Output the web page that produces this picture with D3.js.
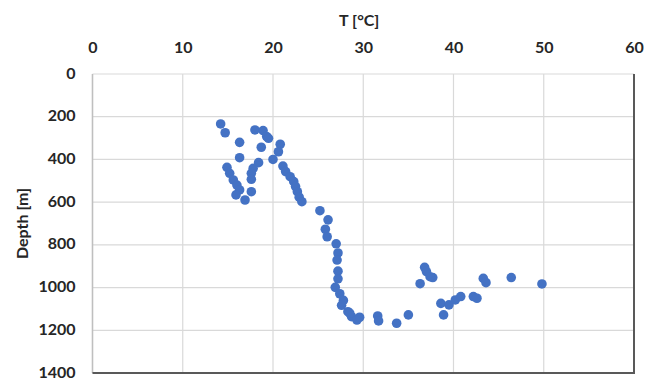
<!DOCTYPE html>
<html>
<head>
<meta charset="utf-8">
<script src="https://cdn.jsdelivr.net/npm/d3@7"></script>
<style>
  body { margin: 0; background: #fff; }
  text { font-family: Lato, "Open Sans", sans-serif; font-weight: bold; }
</style>
</head>
<body>
<svg id="chart" width="646" height="381"></svg>
<script>
// temperature readings (°C)
const temps = [
  14.2, 14.7, 16.3, 18.0, 18.9, 19.3, 19.5, 18.7, 20.8, 20.6, 20.0, 16.3,
  18.4, 17.8, 17.6, 17.6, 14.9, 15.2, 15.6, 16.0, 16.3, 15.9, 16.9, 17.6,
  21.1, 21.4, 21.9, 22.3, 22.5, 22.7, 22.9, 23.2,
  25.2, 26.1, 25.8, 26.0, 27.0, 27.2, 27.1, 27.2, 27.2, 26.9, 27.4, 27.8,
  27.6, 28.3, 28.7, 29.3, 29.6, 28.5, 31.6, 31.7, 33.7, 35.0,
  36.8, 37.0, 37.7, 37.4, 36.3, 38.6, 39.5, 38.9, 40.2, 40.8, 42.2, 42.6,
  43.3, 43.6, 46.4, 49.8
];
// matching depths (m)
const depths = [
  234, 275, 320, 262, 265, 293, 301, 343, 329, 364, 400, 392,
  415, 442, 465, 493, 437, 465, 496, 520, 543, 566, 590, 551,
  431, 457, 481, 504, 527, 551, 577, 598,
  640, 683, 727, 762, 795, 838, 871, 923, 959, 999, 1029, 1060,
  1083, 1113, 1136, 1152, 1139, 1120, 1133, 1156, 1167, 1128,
  905, 925, 953, 949, 982, 1074, 1081, 1128, 1058, 1042, 1042, 1050,
  957, 977, 953, 983
];
const xTicks = [0, 10, 20, 30, 40, 50, 60];
const yTicks = [0, 200, 400, 600, 800, 1000, 1200, 1400];

const data = temps.map((t, i) => ({ t, d: depths[i] }));

const svg = d3.select('#chart');
const plotLeft = 92.5, plotRight = 634, plotTop = 74, plotBottom = 373;
const labelColor = '#262626';

const x = d3.scaleLinear().domain([0, 60]).range([plotLeft, plotRight]);
const y = d3.scaleLinear().domain([0, 1400]).range([plotTop, plotBottom]);

// gridlines
svg.append('g')
  .selectAll('line')
  .data(xTicks)
  .join('line')
  .attr('x1', d => x(d)).attr('x2', d => x(d))
  .attr('y1', plotTop).attr('y2', plotBottom)
  .attr('stroke', '#d9d9d9').attr('stroke-width', 1.2);

svg.append('g')
  .selectAll('line')
  .data(yTicks)
  .join('line')
  .attr('x1', plotLeft).attr('x2', plotRight)
  .attr('y1', d => y(d)).attr('y2', d => y(d))
  .attr('stroke', '#d9d9d9').attr('stroke-width', 1.2);

// left edge (value axis line)
svg.append('line')
  .attr('x1', plotLeft).attr('x2', plotLeft).attr('y1', plotTop).attr('y2', plotBottom)
  .attr('stroke', '#bfbfbf').attr('stroke-width', 1.5);

// dark bottom and right edges
svg.append('path')
  .attr('d', `M${plotLeft},${plotBottom}H${plotRight}V${plotTop}`)
  .attr('fill', 'none')
  .attr('stroke', '#595959').attr('stroke-width', 2);

// top axis labels
const xAxis = d3.axisTop(x).tickValues(xTicks).tickSize(0).tickPadding(0);
const gx = svg.append('g').attr('transform', `translate(0, ${plotTop - 27})`).call(xAxis);
gx.select('.domain').remove();
gx.selectAll('text')
  .attr('y', 0).attr('dy', '0.35em')
  .attr('fill', labelColor)
  .style('font-size', '16px')
  .style('font-family', 'Lato, sans-serif');

const yAxis = d3.axisLeft(y).tickValues(yTicks).tickFormat(d3.format('d')).tickSize(0).tickPadding(0);
const gy = svg.append('g').attr('transform', `translate(${plotLeft - 17}, -1)`).call(yAxis);
gy.select('.domain').remove();
gy.selectAll('text')
  .attr('fill', labelColor)
  .style('font-size', '16px')
  .style('font-family', 'Lato, sans-serif');

// axis titles
svg.append('text')
  .attr('x', (plotLeft + plotRight) / 2 - 4)
  .attr('y', 22)
  .attr('text-anchor', 'middle')
  .attr('dominant-baseline', 'middle')
  .attr('fill', labelColor)
  .style('font-size', '16px')
  .text('T [°C]');

svg.append('text')
  .attr('transform', `translate(24, ${(plotTop + plotBottom) / 2}) rotate(-90)`)
  .attr('text-anchor', 'middle')
  .attr('dominant-baseline', 'middle')
  .attr('fill', labelColor)
  .style('font-size', '16px')
  .text('Depth [m]');

// points
svg.append('g')
  .selectAll('circle')
  .data(data)
  .join('circle')
  .attr('cx', d => x(d.t))
  .attr('cy', d => y(d.d))
  .attr('r', 4.8)
  .attr('fill', '#4472c4');
</script>
</body>
</html>
